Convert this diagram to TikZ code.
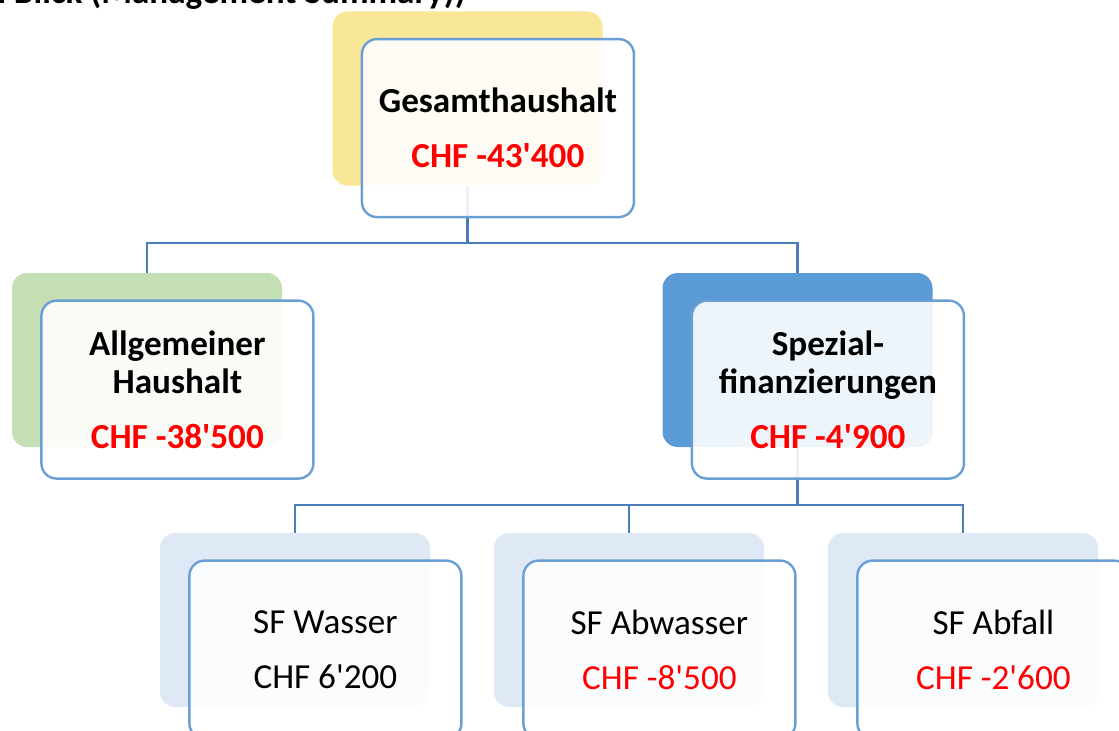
\documentclass[tikz,border=0pt]{standalone}
\usepackage{fontspec}
\setmainfont{Carlito}[Ligatures=TeXOff]
\usetikzlibrary{positioning}
\newcommand{\OrgShiftX}{0.76}
\newcommand{\OrgShiftY}{0.74}
\definecolor{orgline}{HTML}{4A7EBB}
\definecolor{orgframe}{HTML}{6A9FD6}
\definecolor{backyellow}{HTML}{F8E796}
\definecolor{backgreen}{HTML}{C5DFB4}
\definecolor{backblue}{HTML}{5B9BD5}
\definecolor{backpale}{HTML}{DEE9F5}
\definecolor{amountred}{HTML}{FF0000}
\tikzset{
  backbox/.style={rounded corners=0.38cm, minimum width=6.75cm, minimum height=4.35cm, inner sep=0pt},
  frontbox/.style={draw=orgframe, line width=1.7pt, fill=white, fill opacity=0.9, text opacity=1,
    rounded corners=0.38cm, minimum width=6.8cm, minimum height=4.45cm, align=center,
    font=\fontsize{25}{27}\selectfont},
  orglink/.style={draw=orgline, line width=2pt},
}
\begin{document}
\begin{tikzpicture}
	\useasboundingbox (0,0) rectangle (27.975,-18.275);
	% title, cut by the page edge
	\node[anchor=base east, inner sep=0pt, font=\fontsize{25}{27}\selectfont\bfseries] (title) at (11.65,-0.08) {Auf einen Blick (Management Summary))};
	% coloured boxes behind
	\node[backbox, fill=backyellow] (gesB) at (11.6875,-2.4625) {};
	\node[backbox, fill=backgreen] (allB) at (3.675,-9.0) {};
	\node[backbox, fill=backblue] (spzB) at (19.9375,-9.0) {};
	\node[backbox, fill=backpale] (wasB) at (7.375,-15.5) {};
	\node[backbox, fill=backpale] (abwB) at (15.725,-15.5) {};
	\node[backbox, fill=backpale] (abfB) at (24.075,-15.5) {};
	% connectors
	\coordinate (top) at (11.6875,-6.075);
	\coordinate (mid) at (19.9375,-12.625);
	\draw[orglink] (gesB.south) -- (top);
	\draw[orglink] (allB.north) |- (top) -| (spzB.north);
	\draw[orglink] (spzB.south) -- (mid);
	\draw[orglink] (wasB.north) |- (mid) -| (abfB.north);
	\draw[orglink] (abwB.north) -- (abwB.north |- mid);
	% boxes in front
	\node[frontbox, below right=\OrgShiftY cm and \OrgShiftX cm of gesB.center, anchor=center] (gesF)
		{\bfseries Gesamthaushalt\\[12pt]\bfseries\color{amountred}CHF -43'400};
	\node[frontbox, below right=\OrgShiftY cm and \OrgShiftX cm of allB.center, anchor=center] (allF)
		{\bfseries Allgemeiner\\\bfseries Haushalt\\[12pt]\bfseries\color{amountred}CHF -38'500};
	\node[frontbox, below right=\OrgShiftY cm and \OrgShiftX cm of spzB.center, anchor=center] (spzF)
		{\bfseries Spezial-\\\bfseries finanzierungen\\[12pt]\bfseries\color{amountred}CHF -4'900};
	\node[frontbox, below right=\OrgShiftY cm and \OrgShiftX cm of wasB.center, anchor=center] (wasF)
		{SF Wasser\\[12pt]CHF 6'200};
	\node[frontbox, below right=\OrgShiftY cm and \OrgShiftX cm of abwB.center, anchor=center] (abwF)
		{SF Abwasser\\[12pt]\color{amountred}CHF -8'500};
	\node[frontbox, below right=\OrgShiftY cm and \OrgShiftX cm of abfB.center, anchor=center] (abfF)
		{SF Abfall\\[12pt]\color{amountred}CHF -2'600};
\end{tikzpicture}
\end{document}
